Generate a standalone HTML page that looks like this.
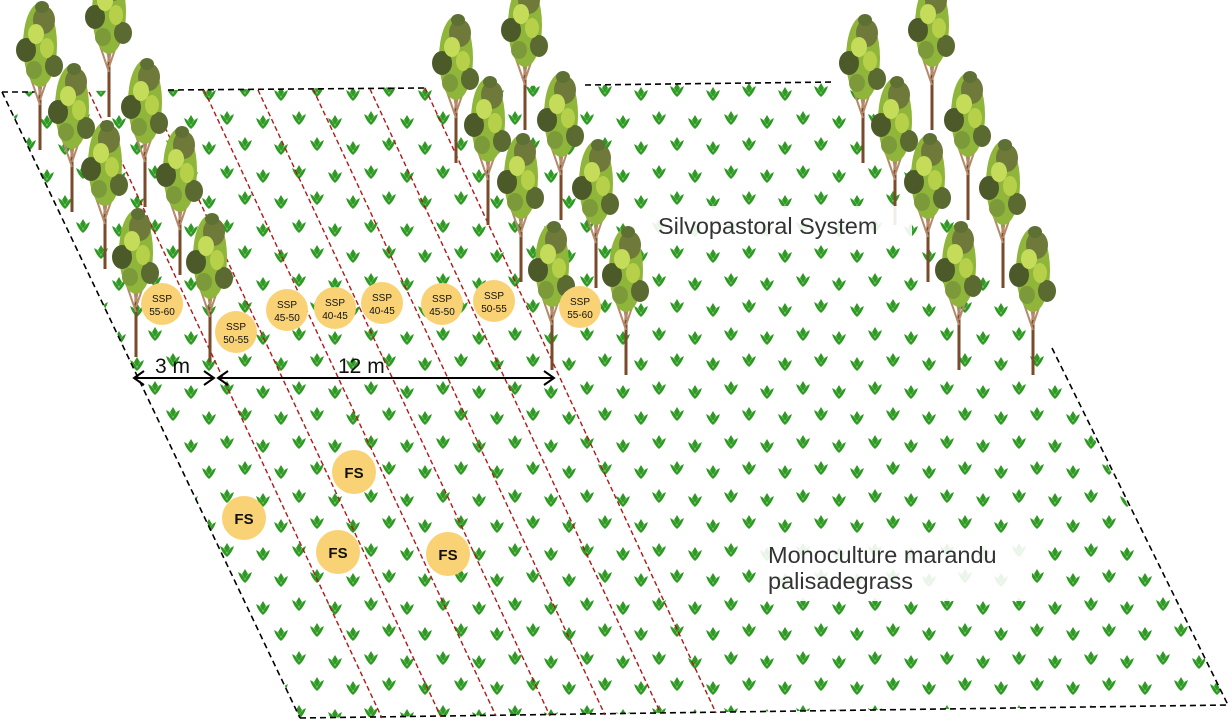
<!DOCTYPE html>
<html><head><meta charset="utf-8"><style>
html,body{margin:0;padding:0;background:#fff;width:1232px;height:723px;overflow:hidden}
svg{display:block}
</style></head><body>
<svg width="1232" height="723" viewBox="0 0 1232 723" xmlns="http://www.w3.org/2000/svg" font-family="Liberation Sans, DejaVu Sans, sans-serif">
<defs>
<path id="g" d="M0 0 Q5 2 7 8 Q9 2 14 0 Q12 7 7 11 Q2 7 0 0Z M4 2 L7 -3 L10 2 L7 7Z" fill="#2e9a23"/>
<pattern id="grass" width="72" height="54" patternUnits="userSpaceOnUse">
<use href="#g" x="4" y="6"/><use href="#g" x="40" y="10"/>
<use href="#g" x="22" y="32"/><use href="#g" x="58" y="36"/>
</pattern>
<clipPath id="field"><polygon points="2,92 850,82 1050,350 1228,705 300,718"/></clipPath>
<g id="tree">
<line x1="0" y1="0" x2="0" y2="-110" stroke="#7a4a2a" stroke-width="3"/>
<path d="M0 -45 L-12 -80 M0 -50 L12 -85 M0 -55 L-6 -95 M0 -55 L6 -95" stroke="#b58a6a" stroke-width="2" fill="none"/>
<ellipse cx="0" cy="-105" rx="17" ry="42" fill="#8fb53a"/>
<ellipse cx="-14" cy="-100" rx="10" ry="12" fill="#4c5a2a"/>
<ellipse cx="14" cy="-84" rx="9" ry="11" fill="#5a6a30"/>
<ellipse cx="4" cy="-130" rx="11" ry="14" fill="#6f7a3a"/>
<ellipse cx="-4" cy="-116" rx="8" ry="10" fill="#c5dc5a"/>
<ellipse cx="7" cy="-102" rx="7" ry="10" fill="#b7d04a"/>
<ellipse cx="-6" cy="-80" rx="8" ry="9" fill="#7d9a3a"/>
<ellipse cx="2" cy="-143" rx="7" ry="6" fill="#5f7035"/>
</g>
<g id="grove">
<use href="#tree" x="0" y="0"/><use href="#tree" x="69" y="-33"/>
<use href="#tree" x="32" y="62"/><use href="#tree" x="105" y="57"/>
<use href="#tree" x="65" y="119"/><use href="#tree" x="140" y="125"/>
<use href="#tree" x="96" y="207"/><use href="#tree" x="170" y="212"/>
</g>
</defs>
<rect x="0" y="0" width="1232" height="723" fill="#fff"/>
<rect x="0" y="0" width="1232" height="723" fill="url(#grass)" clip-path="url(#field)"/>
<g stroke="#000" stroke-width="1.6" stroke-dasharray="6,4" fill="none">
<line x1="2" y1="92" x2="300" y2="718"/>
<line x1="2" y1="92" x2="36" y2="92"/>
<line x1="168" y1="90" x2="425" y2="88"/>
<line x1="585" y1="85" x2="835" y2="82"/>
<line x1="1052" y1="348" x2="1228" y2="705"/>
<line x1="300" y1="718" x2="1228" y2="705"/>
</g>
<g stroke="#b01818" stroke-width="1.4" stroke-dasharray="5,3" fill="none">
<line x1="89" y1="92" x2="382" y2="718"/>
<line x1="148" y1="91" x2="441" y2="717"/>
<line x1="204" y1="90" x2="496" y2="716"/>
<line x1="258" y1="90" x2="550" y2="716"/>
<line x1="313" y1="89" x2="605" y2="715"/>
<line x1="370" y1="89" x2="661" y2="714"/>
<line x1="425" y1="88" x2="716" y2="713"/>
</g>
<use href="#grove" x="40" y="150"/>
<use href="#grove" x="456" y="163"/>
<use href="#grove" x="863" y="163"/>
<rect x="650" y="206" width="262" height="36" fill="#fff" opacity="0.9"/>
<text x="658" y="234" font-size="23.5" fill="#333">Silvopastoral System</text>
<rect x="760" y="535" width="272" height="66" fill="#fff" opacity="0.9"/>
<text x="768" y="563" font-size="23.5" fill="#333">Monoculture marandu</text>
<text x="768" y="589" font-size="23.5" fill="#333">palisadegrass</text>
<g fill="#fad276">
<circle cx="162" cy="304" r="21"/><circle cx="236" cy="332" r="21"/>
<circle cx="287" cy="310" r="21"/><circle cx="335" cy="308" r="21"/>
<circle cx="382" cy="303" r="21"/><circle cx="442" cy="304" r="21"/>
<circle cx="494" cy="301" r="21"/><circle cx="580" cy="307" r="21"/>
<circle cx="354" cy="472" r="22"/><circle cx="244" cy="518" r="22"/>
<circle cx="338" cy="552" r="22"/><circle cx="448" cy="554" r="22"/>
</g>
<g font-size="10" fill="#111" text-anchor="middle">
<text x="162" y="302">SSP</text><text x="162" y="315">55-60</text>
<text x="236" y="330">SSP</text><text x="236" y="343">50-55</text>
<text x="287" y="308">SSP</text><text x="287" y="321">45-50</text>
<text x="335" y="306">SSP</text><text x="335" y="319">40-45</text>
<text x="382" y="301">SSP</text><text x="382" y="314">40-45</text>
<text x="442" y="302">SSP</text><text x="442" y="315">45-50</text>
<text x="494" y="299">SSP</text><text x="494" y="312">50-55</text>
<text x="580" y="305">SSP</text><text x="580" y="318">55-60</text>
</g>
<g font-size="15" font-weight="bold" fill="#111" text-anchor="middle">
<text x="354" y="478">FS</text><text x="244" y="524">FS</text>
<text x="338" y="558">FS</text><text x="448" y="560">FS</text>
</g>
<g stroke="#000" stroke-width="2" fill="none">
<line x1="134" y1="378" x2="214" y2="378"/>
<polyline points="144,371 134,378 144,385"/>
<polyline points="204,371 214,378 204,385"/>
<line x1="218" y1="378" x2="554" y2="378"/>
<polyline points="228,371 218,378 228,385"/>
<polyline points="544,371 554,378 544,385"/>
</g>
<text x="155" y="373" font-size="21" fill="#111">3 m</text>
<text x="338" y="373" font-size="21" fill="#111">12 m</text>
</svg>
</body></html>
